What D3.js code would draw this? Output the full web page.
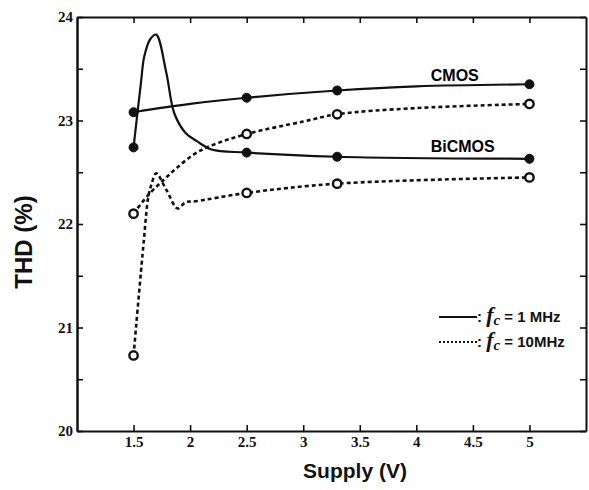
<!DOCTYPE html>
<html>
<head>
  <meta charset="utf-8">
  <script src="https://d3js.org/d3.v7.min.js"></script>
  <style type="text/css">
    body { margin: 0; background: #fff; }
    .axis path, .axis line { stroke: #111; }
    .axis text { font-family: "Liberation Serif", "Times New Roman", serif; font-weight: bold; font-size: 15px; fill: #111; }
  </style>
</head>
<body>
  <script type="text/javascript">
    // measured supplies (markers)
    var supply = [1.5, 2.5, 3.3, 5];
    var cmos1M = [23.08, 23.22, 23.29, 23.35];
    var bicmos1M = [22.74, 22.69, 22.65, 22.63];
    var cmos10M = [22.10, 22.87, 23.06, 23.16];
    var bicmos10M = [20.73, 22.30, 22.39, 22.45];

    // traced curve points (supply, THD)
    var cmos1MCurve = [[1.5, 23.08], [2.0, 23.16], [2.5, 23.22], [3.3, 23.29], [4.0, 23.33], [5, 23.35]];
    var bicmos1MCurve = [[1.5, 22.74], [1.565, 23.36], [1.595, 23.62], [1.65, 23.79], [1.70, 23.83],
      [1.79, 23.46], [1.86, 23.07], [1.96, 22.88], [2.06, 22.80], [2.19, 22.72], [2.5, 22.69],
      [3.3, 22.65], [5, 22.63]];
    var cmos10MCurve = [[1.5, 22.10], [1.63, 22.28], [1.77, 22.43], [1.88, 22.54], [2.03, 22.67],
      [2.17, 22.75], [2.5, 22.87], [3.0, 22.99], [3.3, 23.06], [4.0, 23.12], [5, 23.16]];
    var bicmos10MCurve = [[1.5, 20.73], [1.59, 21.83], [1.63, 22.26], [1.66, 22.39], [1.70, 22.49],
      [1.79, 22.33], [1.89, 22.15], [1.96, 22.21], [2.05, 22.22], [2.5, 22.30], [3.3, 22.39], [5, 22.45]];

    var xTicks = [1.5, 2, 2.5, 3, 3.5, 4, 4.5, 5];
    var yTicks = [20, 21, 22, 23, 24];
    var yMinor = [20.5, 21.5, 22.5, 23.5];

    var width = 589,
        height = 490,
        plotLeft = 77, plotRight = 586, plotTop = 17, plotBottom = 431;

    var svg = d3.select("body")
      .append("svg")
        .attr("width", width)
        .attr("height", height);

    var x = d3.scaleLinear().domain([1, 5.5]).range([plotLeft, plotRight]);
    var y = d3.scaleLinear().domain([20, 24]).range([plotBottom, plotTop]);

    //Axes, ticks all pointing inward
    svg.append("g").attr("class", "axis")
      .attr("transform", "translate(0," + plotBottom + ")")
      .call(d3.axisBottom(x).tickValues(xTicks).tickFormat(d3.format("")).tickSize(-6).tickSizeOuter(0).tickPadding(5));
    svg.append("g").attr("class", "axis")
      .attr("transform", "translate(0," + plotTop + ")")
      .call(d3.axisTop(x).tickValues(xTicks).tickFormat("").tickSize(-6).tickSizeOuter(0));
    svg.append("g").attr("class", "axis")
      .attr("transform", "translate(" + plotLeft + ",0)")
      .call(d3.axisLeft(y).tickValues(yTicks).tickFormat(d3.format("d")).tickSize(-6).tickSizeOuter(0).tickPadding(4));
    svg.append("g").attr("class", "axis")
      .attr("transform", "translate(" + plotLeft + ",0)")
      .call(d3.axisLeft(y).tickValues(yMinor).tickFormat("").tickSize(-6).tickSizeOuter(0));
    svg.append("g").attr("class", "axis")
      .attr("transform", "translate(" + plotRight + ",0)")
      .call(d3.axisRight(y).tickValues(yTicks.concat(yMinor)).tickFormat("").tickSize(-6).tickSizeOuter(0));

    svg.selectAll(".axis path").style("stroke-width", 2);
    svg.selectAll(".axis line").style("stroke-width", 1.6);

    //Curves
    var line = d3.line()
      .x(function (d) { return x(d[0]); })
      .y(function (d) { return y(d[1]); })
      .curve(d3.curveCatmullRom.alpha(0.5));

    var curves = [
      { pts: cmos1MCurve, dash: null },
      { pts: bicmos1MCurve, dash: null },
      { pts: cmos10MCurve, dash: "4,3" },
      { pts: bicmos10MCurve, dash: "4,3" }
    ];

    svg.selectAll(".curve")
      .data(curves)
      .enter()
      .append("path")
        .attr("class", "curve")
        .attr("d", function (d) { return line(d.pts); })
        .style("fill", "none")
        .style("stroke", "#111")
        .style("stroke-width", function (d) { return d.dash ? 2.6 : 2.2; })
        .style("stroke-dasharray", function (d) { return d.dash; });

    //Markers
    function markers(vals, open) {
      svg.selectAll(null)
        .data(vals)
        .enter()
        .append("circle")
          .attr("cx", function (d, i) { return x(supply[i]); })
          .attr("cy", function (d) { return y(d); })
          .attr("r", open ? 4.2 : 4.5)
          .style("fill", open ? "#fff" : "#111")
          .style("stroke", "#111")
          .style("stroke-width", open ? 2.4 : 1);
    }
    markers(cmos1M, false);
    markers(bicmos1M, false);
    markers(cmos10M, true);
    markers(bicmos10M, true);

    //Series labels
    svg.append("text")
      .attr("x", x(4.34)).attr("y", y(23.38))
      .attr("text-anchor", "middle")
      .style("font-family", "Liberation Sans, Arial, sans-serif")
      .style("font-weight", "bold")
      .style("font-size", "16px")
      .text("CMOS");
    svg.append("text")
      .attr("x", x(4.41)).attr("y", y(22.70))
      .attr("text-anchor", "middle")
      .style("font-family", "Liberation Sans, Arial, sans-serif")
      .style("font-weight", "bold")
      .style("font-size", "16px")
      .text("BiCMOS");

    //Legend
    var legendRows = [
      { dash: null, w: 2, label: " = 1 MHz", y: 317 },
      { dash: "2,2", w: 2.2, label: " = 10MHz", y: 342 }
    ];
    legendRows.forEach(function (r) {
      svg.append("line")
        .attr("x1", 439).attr("x2", 477)
        .attr("y1", r.y).attr("y2", r.y)
        .style("stroke", "#111")
        .style("stroke-width", r.w)
        .style("stroke-dasharray", r.dash);
      var t = svg.append("text")
        .attr("x", 477).attr("y", r.y + 5)
        .style("font-family", "Liberation Sans, Arial, sans-serif")
        .style("font-weight", "bold")
        .style("font-size", "15px")
        .style("fill", "#111");
      t.append("tspan").text(": ");
      t.append("tspan")
        .style("font-family", "Liberation Serif, Times New Roman, serif")
        .style("font-style", "italic")
        .style("font-size", "22px")
        .text("f");
      t.append("tspan")
        .attr("dy", 3)
        .style("font-family", "Liberation Serif, Times New Roman, serif")
        .style("font-style", "italic")
        .style("font-size", "15px")
        .text("c");
      t.append("tspan")
        .attr("dy", -3)
        .text(r.label);
    });

    //Axis titles
    svg.append("text")
      .attr("x", 355).attr("y", 478)
      .attr("text-anchor", "middle")
      .style("font-family", "Liberation Sans, Arial, sans-serif")
      .style("font-weight", "bold")
      .style("font-size", "21px")
      .style("fill", "#111")
      .text("Supply (V)");
    svg.append("text")
      .attr("transform", "translate(32,242) rotate(-90)")
      .attr("text-anchor", "middle")
      .style("font-family", "Liberation Sans, Arial, sans-serif")
      .style("font-weight", "bold")
      .style("font-size", "24px")
      .style("fill", "#111")
      .text("THD (%)");
  </script>
</body>
</html>
